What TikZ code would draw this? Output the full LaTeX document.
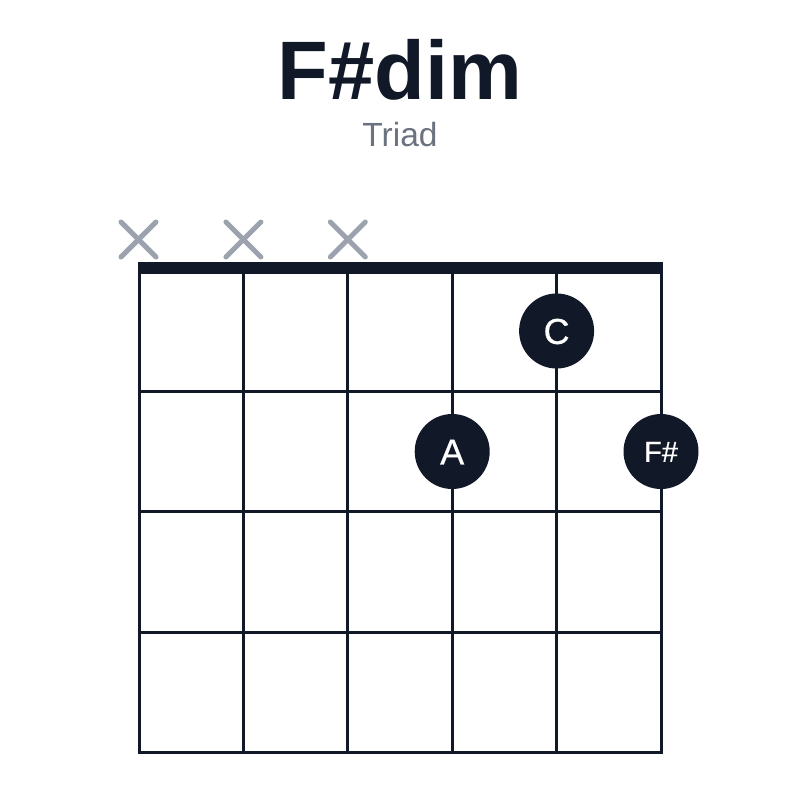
\documentclass[tikz,border=0pt]{standalone}
\usepackage{fontspec}
\setmainfont{Liberation Sans}
\newfontfamily\dotfont[FakeBold=0.6]{Liberation Sans}
\definecolor{ink}{HTML}{111827}
\definecolor{mutegray}{HTML}{9CA3AF}
\definecolor{subgray}{HTML}{6B7280}
\tikzset{
  gridline/.style={draw=ink, line width=3pt},
  mutemark/.style={draw=mutegray, line width=5pt, line cap=round},
  fingerdot/.style={circle, fill=ink, minimum size=75pt, inner sep=0pt, text=white, text depth=0pt},
  bigdot/.style={fingerdot, font=\dotfont\fontsize{36}{40}\selectfont, text height=25.8pt},
  smalldot/.style={fingerdot, font=\dotfont\fontsize{29}{34}\selectfont, text height=20.8pt},
}
\begin{document}
\begin{tikzpicture}[x=1pt,y=-1pt]
\useasboundingbox (0,0) rectangle (800,800);
\fill[white] (0,0) rectangle (800,800);
% title
\node[anchor=base, inner sep=0pt, text=ink, font=\fontsize{83}{90}\selectfont\bfseries] (title) at (400,99.5) {F\#dim};
\node[anchor=base, inner sep=0pt, text=subgray, font=\fontsize{33.5}{38}\selectfont] (subtitle) at (400,146.5) {Triad};
% strings
\foreach \x in {139,243.4,347.8,452.2,556.6,661} {
  \draw[gridline] (\x,268) -- (\x,753.5);
}
% frets
\foreach \y in {391,511.5,632,752} {
  \draw[gridline] (137.5,\y) -- (662.5,\y);
}
% nut
\fill[ink] (137.5,262) rectangle (662.5,273.5);
% muted strings
\foreach \x in {138.5,243.4,347.8} {
  \draw[mutemark] (\x-17.5,239.5-17.5) -- (\x+17.5,239.5+17.5);
  \draw[mutemark] (\x-17.5,239.5+17.5) -- (\x+17.5,239.5-17.5);
}
% finger dots
\node[bigdot] (noteC) at (556.6,331) {C};
\node[bigdot] (noteA) at (452.2,451.5) {A};
\node[smalldot] (noteFs) at (661,451.5) {F\#};
\end{tikzpicture}
\end{document}
